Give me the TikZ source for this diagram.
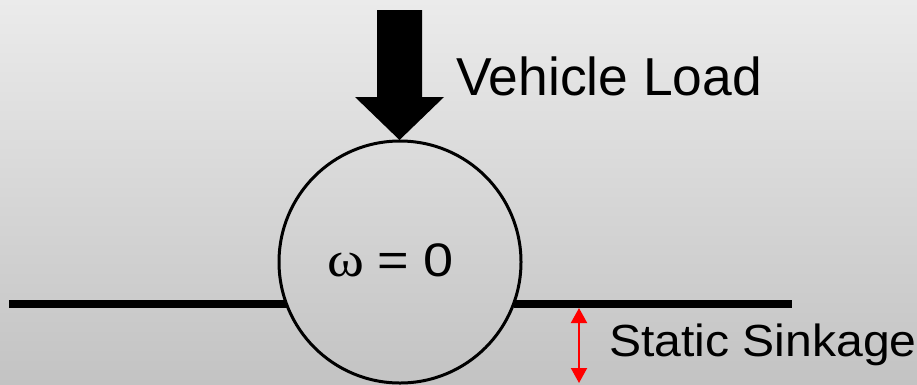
\documentclass[tikz,border=0pt]{standalone}
\usepackage{fontspec}
\setmainfont{Liberation Sans}
\newfontfamily\serifgr{Liberation Serif}
\usetikzlibrary{arrows.meta}
\definecolor{bgtop}{HTML}{EBEBEB}
\definecolor{bgbot}{HTML}{C3C3C3}
\tikzset{
  lbl/.style={inner sep=0pt, text=black},
  ground/.style={line width=8pt, black},
  sinkarrow/.style={red, line width=2pt, {Triangle[length=15pt,width=16pt]}-{Triangle[length=15pt,width=16pt]}}
}
\begin{document}
\begin{tikzpicture}[x=1pt,y=-1pt]
\shade[top color=bgtop, bottom color=bgbot] (0,0) rectangle (917,384);
\useasboundingbox (0,0) rectangle (917,384);
% load arrow
\fill[black] (377,10) -- (422,10) -- (422,97) -- (444,97) -- (399.5,140) -- (355,97) -- (377,97) -- cycle;
% wheel
\node[circle, draw, line width=3pt, minimum size=242pt, inner sep=0pt] (wheel) at (400,262) {};
\node[lbl, anchor=base west] (omega) at (327,276) {\scalebox{1.12}[1]{\fontsize{50}{56}\selectfont\serifgr ω}};
\node[lbl, anchor=base east] (zero) at (454,276) {\scalebox{1.15}[1]{\fontsize{47}{56}\selectfont = 0}};
% ground
\coordinate (gl0) at (9,304);
\coordinate (gl1) at (286.5,304);
\coordinate (gr0) at (513.5,304);
\coordinate (gr1) at (792,304);
\draw[ground] (gl0) -- (gl1);
\draw[ground] (gr0) -- (gr1);
% sinkage arrow
\coordinate (sa) at (579,308);
\coordinate (sb) at (579,383);
\draw[sinkarrow] (sa) -- (sb);
% labels
\node[lbl, anchor=base west] (load) at (456,95) {\fontsize{53.4}{60}\selectfont Vehicle Load};
\node[lbl, anchor=base west] (sink) at (609,356) {\scalebox{1.069}[1]{\fontsize{45}{54}\selectfont Static Sinkage}};
\end{tikzpicture}
\end{document}
